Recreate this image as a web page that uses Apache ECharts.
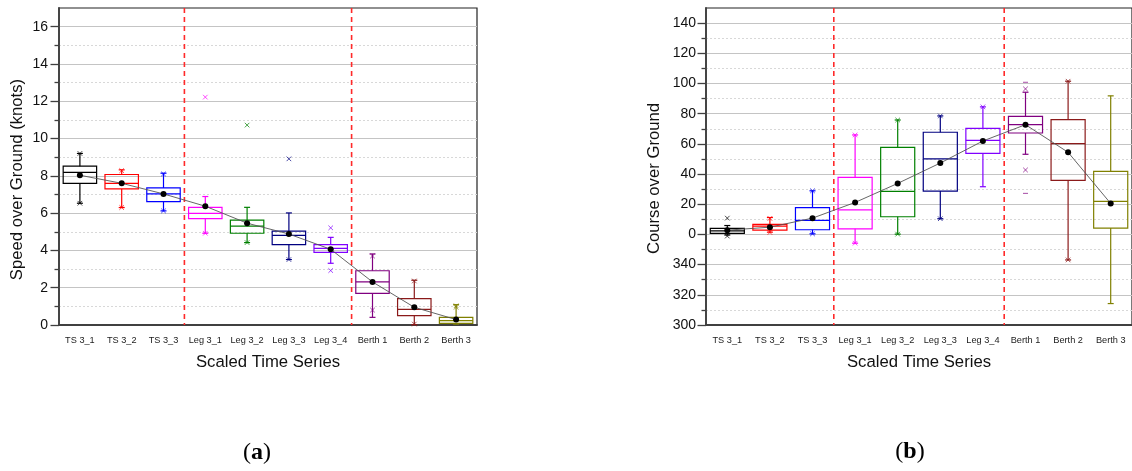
<!DOCTYPE html>
<html>
<head>
<meta charset="utf-8">
<script src="https://cdn.jsdelivr.net/npm/echarts@6/dist/echarts.min.js"></script>
<style>
  html, body { margin: 0; padding: 0; background: #fff; }
  #chart { width: 1132px; height: 471px; }
</style>
</head>
<body>
<div id="chart"></div>
<script>
// categories and colours of the ten boxes
const categories = ['TS 3_1', 'TS 3_2', 'TS 3_3', 'Leg 3_1', 'Leg 3_2', 'Leg 3_3', 'Leg 3_4', 'Berth 1', 'Berth 2', 'Berth 3'];
const boxColors = ['#000000', '#ff0000', '#0000ff', '#ff00ff', '#008000', '#000080', '#8000ff', '#800080', '#8b1a1a', '#808000'];
const phaseBreaks = [2.5, 6.5];

// (a) speed over ground, knots
const sogLow = [6.53, 6.3, 6.12, 4.92, 4.42, 3.51, 3.31, 0.41, 0.02, 0.05];
const sogQ1 = [7.6, 7.3, 6.62, 5.71, 4.92, 4.31, 3.9, 1.7, 0.5, 0.09];
const sogMedian = [8.19, 7.6, 7.03, 5.99, 5.3, 4.81, 4.11, 2.31, 0.84, 0.23];
const sogQ3 = [8.52, 8.07, 7.35, 6.31, 5.62, 5.03, 4.31, 2.91, 1.41, 0.41];
const sogHigh = [9.2, 8.32, 8.14, 6.89, 6.31, 6.01, 4.7, 3.81, 2.4, 1.09];
const sogMean = [8.03, 7.6, 7.03, 6.37, 5.46, 4.88, 4.06, 2.31, 0.95, 0.29];
const sogCrosses = [[0, 9.2], [0, 6.53], [1, 8.28], [1, 6.3], [2, 8.1], [2, 6.12], [3, 12.22], [3, 4.92],
  [4, 10.72], [4, 4.42], [5, 8.91], [5, 3.51], [6, 5.21], [6, 2.92], [7, 3.7], [7, 0.8], [8, 2.36], [8, 0.05], [9, 0.95], [9, 1.03]];
const sogDashes = [];
const sogTicks = [0, 2, 4, 6, 8, 10, 12, 14, 16];
const sogMinorTicks = [1, 3, 5, 7, 9, 11, 13, 15];

// (b) course over ground, degrees (values below 0 are shown as 360 + value)
const cogLow = [-0.4, 1.5, 0.4, -5.8, 0.2, 10.4, 31.6, 53.1, -16.9, -45.8];
const cogQ1 = [0.66, 2.8, 3.1, 3.7, 11.7, 28.7, 53.7, 67.2, 35.8, 4.2];
const cogMedian = [2.4, 5.5, 9.3, 16.3, 28.5, 50, 62.3, 72.7, 60.1, 21.9];
const cogQ3 = [3.98, 6.6, 17.7, 37.8, 57.7, 67.7, 70.3, 78.2, 76, 41.8];
const cogHigh = [5.9, 11.2, 28.9, 65.9, 75.8, 78.5, 84.5, 94.2, 101.5, 91.8];
const cogMean = [2.83, 4.8, 10.8, 21.2, 33.8, 47.3, 61.9, 72.7, 54.4, 20.5];
const cogCrosses = [[0, 10.8], [0, -1.1], [1, 10.6], [1, 1.3], [2, 28.9], [2, 0.4], [3, 65.9], [3, -5.8],
  [4, 75.8], [4, 0.2], [5, 78.5], [5, 10.4], [6, 84.5], [7, 96.4], [7, 42.7], [8, 101.5], [8, -16.9]];
const cogDashes = [[7, 100.8], [7, 27.2]];
const cogTicks = [-60, -40, -20, 0, 20, 40, 60, 80, 100, 120, 140];
const cogMinorTicks = [-50, -30, -10, 10, 30, 50, 70, 90, 110, 130];

const font = '"Liberation Sans", Arial, sans-serif';
const axisColor = '#404040';

function renderBox(params, api) {
  const i = api.value(0);
  const lo = api.coord([i, api.value(1)]);
  const q1 = api.coord([i, api.value(2)]);
  const md = api.coord([i, api.value(3)]);
  const q3 = api.coord([i, api.value(4)]);
  const hi = api.coord([i, api.value(5)]);
  const w = api.size([1, 0])[0] * 0.8;
  const x = lo[0];
  const c = 3;
  const st = () => ({ stroke: boxColors[i], lineWidth: 1.2, fill: 'none' });
  return {
    type: 'group',
    children: [
      { type: 'rect', shape: { x: x - w / 2, y: q3[1], width: w, height: q1[1] - q3[1] }, style: st() },
      { type: 'line', shape: { x1: x - w / 2, y1: md[1], x2: x + w / 2, y2: md[1] }, style: st() },
      { type: 'line', shape: { x1: x, y1: q3[1], x2: x, y2: hi[1] }, style: st() },
      { type: 'line', shape: { x1: x, y1: q1[1], x2: x, y2: lo[1] }, style: st() },
      { type: 'line', shape: { x1: x - c, y1: hi[1], x2: x + c, y2: hi[1] }, style: st() },
      { type: 'line', shape: { x1: x - c, y1: lo[1], x2: x + c, y2: lo[1] }, style: st() }
    ]
  };
}

function renderCross(params, api) {
  const i = api.value(0);
  const p = api.coord([i, api.value(1)]);
  const r = 2.3;
  const st = () => ({ stroke: boxColors[i], lineWidth: 1, opacity: 0.7 });
  return {
    type: 'group',
    children: [
      { type: 'line', shape: { x1: p[0] - r, y1: p[1] - r, x2: p[0] + r, y2: p[1] + r }, style: st() },
      { type: 'line', shape: { x1: p[0] - r, y1: p[1] + r, x2: p[0] + r, y2: p[1] - r }, style: st() }
    ]
  };
}

function renderDash(params, api) {
  const i = api.value(0);
  const p = api.coord([i, api.value(1)]);
  return {
    type: 'line',
    shape: { x1: p[0] - 2.5, y1: p[1], x2: p[0] + 2.5, y2: p[1] },
    style: { stroke: boxColors[i], lineWidth: 1, opacity: 0.7 }
  };
}

function renderBreak(params, api) {
  const x = api.coord([api.value(0), api.value(1)])[0];
  const cs = params.coordSys;
  return {
    type: 'line',
    shape: { x1: x, y1: cs.y, x2: x, y2: cs.y + cs.height },
    style: { stroke: '#ff2a2a', lineWidth: 1.6, lineDash: [5, 4] }
  };
}

function xAxes(gridIndex) {
  return [{
    type: 'category', gridIndex: gridIndex, position: 'bottom', data: categories,
    name: 'Scaled Time Series', nameLocation: 'middle', nameGap: 29,
    nameTextStyle: { fontSize: 16.7, color: '#111', fontFamily: font },
    axisLine: { onZero: false, lineStyle: { color: axisColor, width: 1.8 } },
    axisTick: { alignWithLabel: true, length: 7, lineStyle: { color: axisColor, width: 1.3 } },
    axisLabel: { fontSize: 9.2, color: '#222', margin: 11, interval: 0, fontFamily: font },
    splitLine: { show: false }
  }, {
    type: 'value', gridIndex: gridIndex, position: 'bottom', show: false, min: -0.5, max: 9.5,
    axisLine: { onZero: false }
  }];
}

function yAxes(gridIndex, name, min, max, ticks, minorTicks, nameGap, shift, margin, fmt) {
  return [{
    type: 'value', gridIndex: gridIndex, position: 'left', min: min, max: max,
    name: name, nameLocation: 'middle', nameGap: nameGap,
    nameTextStyle: { fontSize: 16.7, color: '#111', fontFamily: font, padding: [0, shift, 0, 0] },
    axisLine: { show: true, onZero: false, lineStyle: { color: axisColor, width: 1.8 } },
    axisTick: { show: true, length: 8.5, customValues: ticks, lineStyle: { color: axisColor, width: 1.3 } },
    axisLabel: { customValues: ticks, fontSize: 14, color: '#111', margin: margin, fontFamily: font, formatter: fmt },
    splitLine: { show: true, lineStyle: { color: '#c4c4c4', width: 1 } }
  }, {
    type: 'value', gridIndex: gridIndex, position: 'left', min: min, max: max,
    axisLine: { show: false, onZero: false },
    axisTick: { show: true, length: 4.5, customValues: minorTicks, lineStyle: { color: axisColor, width: 1.3 } },
    axisLabel: { show: false },
    splitLine: { show: true, lineStyle: { color: '#d8d8d8', width: 1, type: [2, 2] } }
  }];
}

function panelSeries(k, low, q1, med, q3, high, mean, crosses, dashes) {
  const xi = k * 2, yi = k * 2;
  return [{
    type: 'custom', xAxisIndex: xi + 1, yAxisIndex: yi, renderItem: renderBreak,
    data: phaseBreaks.map(v => [v, 0]), encode: { x: 0, y: 1 }, z: 1, silent: true
  }, {
    type: 'custom', xAxisIndex: xi, yAxisIndex: yi, renderItem: renderBox, clip: false,
    data: categories.map((c, i) => [i, low[i], q1[i], med[i], q3[i], high[i]]),
    encode: { x: 0, y: [1, 2, 3, 4, 5] }, z: 2
  }, {
    type: 'custom', xAxisIndex: xi, yAxisIndex: yi, renderItem: renderCross, clip: false,
    data: crosses, encode: { x: 0, y: 1 }, z: 3
  }, {
    type: 'custom', xAxisIndex: xi, yAxisIndex: yi, renderItem: renderDash, clip: false,
    data: dashes, encode: { x: 0, y: 1 }, z: 3
  }, {
    type: 'line', xAxisIndex: xi, yAxisIndex: yi, data: mean,
    symbol: 'circle', symbolSize: 6, itemStyle: { color: '#000' },
    lineStyle: { color: '#555', width: 0.9 }, z: 5, animation: false
  }];
}

const chart = echarts.init(document.getElementById('chart'));
chart.setOption({
  animation: false,
  backgroundColor: '#fff',
  grid: [
    { left: 59, top: 8, width: 418, height: 317, show: true, borderColor: '#222', borderWidth: 1.2 },
    { left: 706, top: 8, width: 431, height: 317, show: true, borderColor: '#222', borderWidth: 1.2 }
  ],
  xAxis: xAxes(0).concat(xAxes(1)),
  yAxis: yAxes(0, 'Speed over Ground (knots)', 0, 17, sogTicks, sogMinorTicks, 33, 26, 11)
    .concat(yAxes(1, 'Course over Ground', -60, 150, cogTicks, cogMinorTicks, 43, 24, 10,
      v => (v < 0 ? v + 360 : v))),
  series: panelSeries(0, sogLow, sogQ1, sogMedian, sogQ3, sogHigh, sogMean, sogCrosses, sogDashes)
    .concat(panelSeries(1, cogLow, cogQ1, cogMedian, cogQ3, cogHigh, cogMean, cogCrosses, cogDashes)),
  graphic: [
    { type: 'text', x: 257, y: 453, style: { text: '{p|(}{b|a}{p|)}', textAlign: 'center', textVerticalAlign: 'middle',
      rich: { p: { fontSize: 24, fontFamily: '"Liberation Serif", serif', fill: '#000' },
              b: { fontSize: 24, fontWeight: 'bold', fontFamily: '"Liberation Serif", serif', fill: '#000' } } } },
    { type: 'text', x: 910, y: 452, style: { text: '{p|(}{b|b}{p|)}', textAlign: 'center', textVerticalAlign: 'middle',
      rich: { p: { fontSize: 24, fontFamily: '"Liberation Serif", serif', fill: '#000' },
              b: { fontSize: 24, fontWeight: 'bold', fontFamily: '"Liberation Serif", serif', fill: '#000' } } } }
  ]
});
</script>
</body>
</html>
